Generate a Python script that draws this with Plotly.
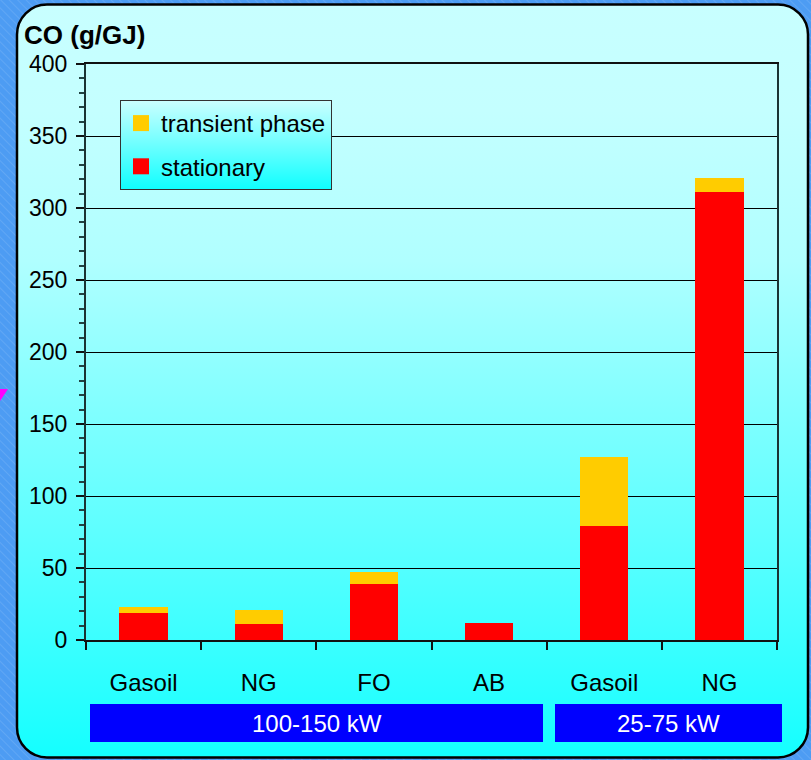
import urllib.parse
import plotly.graph_objects as go

# CO emissions (g/GJ) per boiler / fuel
fuels = ["Gasoil", "NG", "FO", "AB", "Gasoil", "NG"]
stationary = [19, 11, 39, 12, 79, 311]
transient = [4, 9.5, 8, 0, 48, 10]
groups = ["100-150 kW", "25-75 kW"]
y_ticks = [0, 50, 100, 150, 200, 250, 300, 350, 400]
series_colors = {"stationary": "#ff0000", "transient phase": "#ffcc00"}

W, H = 811, 760
L, R, T, B = 86, 34, 64, 120
PW, PH = W - L - R, H - T - B


def px_x(px):
    return (px - L) / PW


def px_y(py):
    return (H - B - py) / PH


def svg_uri(svg):
    return "data:image/svg+xml;charset=utf-8," + urllib.parse.quote(svg)


backdrop = f"""<svg xmlns='http://www.w3.org/2000/svg' width='{W}' height='{H}' viewBox='0 0 {W} {H}' preserveAspectRatio='none'>
<defs>
<pattern id='hatch' width='6' height='6' patternUnits='userSpaceOnUse' patternTransform='rotate(-45)'>
<line x1='0' y1='0' x2='0' y2='6' stroke='rgba(255,255,255,0.22)' stroke-width='1'/>
</pattern>
<linearGradient id='panel' x1='0' y1='0' x2='0' y2='1'>
<stop offset='0' stop-color='#c8ffff'/>
<stop offset='0.14' stop-color='#c4ffff'/>
<stop offset='0.34' stop-color='#b0ffff'/>
<stop offset='0.54' stop-color='#80ffff'/>
<stop offset='0.74' stop-color='#55ffff'/>
<stop offset='1' stop-color='#14ffff'/>
</linearGradient>
</defs>
<rect x='0' y='0' width='{W}' height='{H}' fill='#4d9cf3'/>
<rect x='0' y='0' width='{W}' height='{H}' fill='url(#hatch)'/>
<path d='M0,389 L8,389 L0,401 Z' fill='#ff00ff'/>
<rect x='17' y='4.5' width='791' height='753' rx='30' ry='30' fill='url(#panel)' stroke='#000' stroke-width='2.5'/>
</svg>"""

legend_bg = """<svg xmlns='http://www.w3.org/2000/svg' width='100' height='100' viewBox='0 0 100 100' preserveAspectRatio='none'>
<defs><linearGradient id='g' x1='0' y1='0' x2='0' y2='1'>
<stop offset='0' stop-color='#ccffff'/><stop offset='1' stop-color='#10ffff'/>
</linearGradient></defs>
<rect x='0' y='0' width='100' height='100' fill='url(#g)'/>
</svg>"""

xs = list(range(len(fuels)))

fig = go.Figure()
fig.add_trace(go.Bar(
    x=xs, y=stationary, name="stationary", width=0.42,
    marker=dict(color=series_colors["stationary"], line=dict(width=0)),
    legendgroup="b", showlegend=False,
))
fig.add_trace(go.Bar(
    x=xs, y=transient, name="transient phase", width=0.42,
    marker=dict(color=series_colors["transient phase"], line=dict(width=0)),
    legendgroup="a", showlegend=False,
))
# square swatches for the legend entries, tied to the bar groups
for name, grp, rank in [("transient phase", "a", 1), ("stationary", "b", 2)]:
    fig.add_trace(go.Scatter(
        x=[None], y=[None], mode="markers", name=name,
        legendgroup=grp, legendrank=rank,
        marker=dict(symbol="square", size=17, color=series_colors[name],
                    line=dict(width=0)),
    ))

font = "Liberation Sans, Arial, sans-serif"

shapes = []
annotations = [dict(
    text="<b>CO (g/GJ)</b>", x=px_x(22), y=px_y(35), xref="paper", yref="paper",
    xanchor="left", yanchor="middle", showarrow=False,
    font=dict(family=font, size=26, color="#000"),
)]
boxes = [(90, 543), (555, 782)]
for label, (x0, x1) in zip(groups, boxes):
    shapes.append(dict(
        type="rect", xref="paper", yref="paper",
        x0=px_x(x0), x1=px_x(x1), y0=px_y(742), y1=px_y(704),
        fillcolor="#0000ff", line=dict(width=0), layer="above",
    ))
    annotations.append(dict(
        text=label, x=px_x((x0 + x1) / 2), y=px_y(723), xref="paper", yref="paper",
        xanchor="center", yanchor="middle", showarrow=False,
        font=dict(family=font, size=24, color="#ffffff"),
    ))

fig.update_layout(
    width=W, height=H,
    margin=dict(l=L, r=R, t=T, b=B, pad=0),
    paper_bgcolor="rgba(0,0,0,0)",
    plot_bgcolor="rgba(0,0,0,0)",
    barmode="stack",
    font=dict(family=font, size=22, color="#000"),
    showlegend=True,
    legend=dict(
        x=px_x(120), y=px_y(100), xanchor="left", yanchor="top",
        bgcolor="rgba(0,0,0,0)", bordercolor="#333", borderwidth=1,
        traceorder="grouped", tracegroupgap=9, itemwidth=30,
        font=dict(family=font, size=24, color="#000"),
    ),
    images=[
        dict(source=svg_uri(backdrop), xref="paper", yref="paper",
             x=px_x(0), y=px_y(0), sizex=W / PW, sizey=H / PH,
             sizing="stretch", xanchor="left", yanchor="top", layer="below"),
        dict(source=svg_uri(legend_bg), xref="paper", yref="paper",
             x=px_x(120), y=px_y(100), sizex=211 / PW, sizey=89 / PH,
             sizing="stretch", xanchor="left", yanchor="top", layer="above"),
    ],
    shapes=shapes,
    annotations=annotations,
    xaxis=dict(
        range=[-0.5, 5.5], tickvals=xs, ticktext=fuels,
        ticks="", showgrid=False, zeroline=False,
        showline=True, linecolor="#111", linewidth=2, mirror=True,
        ticklabelstandoff=20,
        tickfont=dict(family=font, size=24, color="#000"),
        minor=dict(ticks="outside", tick0=-0.5, dtick=1, ticklen=8,
                   tickwidth=1.5, tickcolor="#111", showgrid=False),
    ),
    yaxis=dict(
        range=[0, 400], tickvals=y_ticks,
        ticks="outside", ticklen=8, tickwidth=1.5, tickcolor="#111",
        showgrid=True, gridcolor="#000", gridwidth=1, zeroline=False,
        showline=True, linecolor="#1a3333", linewidth=2, mirror=True,
        ticklabelstandoff=4,
        tickfont=dict(family=font, size=23, color="#000"),
        minor=dict(ticks="outside", dtick=10, ticklen=5, tickwidth=1.5,
                   tickcolor="#224444", showgrid=False),
    ),
)

fig.write_html("out.html")
